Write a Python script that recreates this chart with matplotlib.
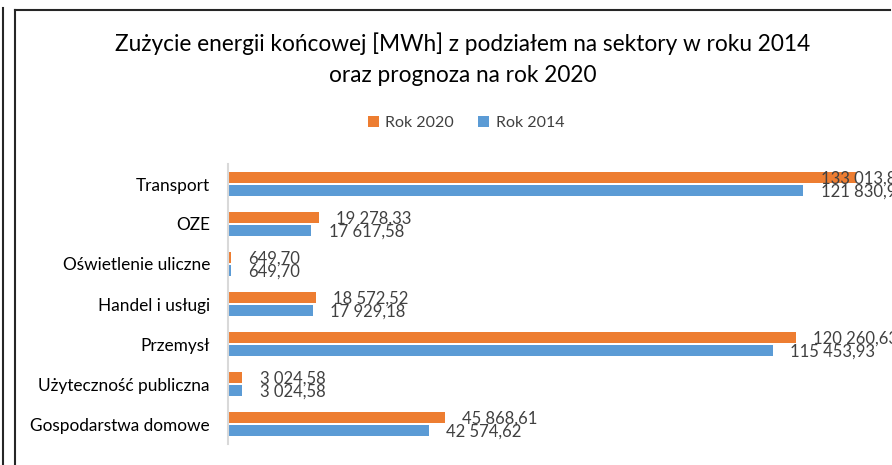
import numpy as np
import matplotlib
matplotlib.use("Agg")
import matplotlib.pyplot as plt
from matplotlib.lines import Line2D

plt.rcParams['font.family'] = ['Lato', 'DejaVu Sans']

# dane (od gory do dolu)
sektory = ["Transport", "OZE", "Oświetlenie uliczne", "Handel i usługi",
           "Przemysł", "Użyteczność publiczna", "Gospodarstwa domowe"]
rok_2020 = [133013.80, 19278.33, 649.70, 18572.52, 120260.63, 3024.58, 45868.61]
rok_2014 = [121830.90, 17617.58, 649.70, 17929.18, 115453.93, 3024.58, 42574.62]
etykiety_2020 = ["133 013,80", "19 278,33", "649,70", "18 572,52",
                 "120 260,63", "3 024,58", "45 868,61"]
etykiety_2014 = ["121 830,90", "17 617,58", "649,70", "17 929,18",
                 "115 453,93", "3 024,58", "42 574,62"]

POMARANCZ = "#ED7D31"
NIEBIESKI = "#5B9BD5"
W, H = 892, 465

fig = plt.figure(figsize=(W / 100, H / 100), dpi=100)
ax = fig.add_axes([228 / W, 21 / H, (W - 228) / W, 280 / H])

y = np.arange(len(sektory))
h = 0.267
ax.barh(y - 0.167, rok_2020, height=h, color=POMARANCZ, label="Rok 2020")
ax.barh(y + 0.167, rok_2014, height=h, color=NIEBIESKI, label="Rok 2014")

ax.set_xlim(0, 140650)
ax.set_ylim(len(sektory) - 0.5, -0.5)

# excel przesuwa etykiety, zeby nie wychodzily poza wykres
limit_etykiet = 121830.9
for i in range(len(sektory)):
    for v, txt, dy in ((rok_2020[i], etykiety_2020[i], -0.13),
                       (rok_2014[i], etykiety_2014[i], 0.2)):
        ax.annotate(txt, (min(v, limit_etykiet), i + dy), xytext=(12.5, 0),
                    textcoords="offset points", va="center", ha="left",
                    fontsize=12, color="#404040", annotation_clip=False)

ax.set_yticks(y)
ax.set_yticklabels(sektory, fontsize=12.4, color="black")
ax.tick_params(axis="y", length=0, pad=13)
ax.set_xticks([])
for s in ("top", "right", "bottom"):
    ax.spines[s].set_visible(False)
ax.spines["left"].set_color("#D9D9D9")
ax.spines["left"].set_linewidth(1.5)

fig.text(463 / W, 1 - 44 / H, "Zużycie energii końcowej [MWh] z podziałem na sektory w roku 2014",
         ha="center", va="center", fontsize=16.3, color="black")
fig.text(463 / W, 1 - 75 / H, "oraz prognoza na rok 2020",
         ha="center", va="center", fontsize=16.3, color="black")

fig.legend(loc="center", bbox_to_anchor=(466 / W, 1 - 123 / H), ncol=2,
           frameon=False, fontsize=11.5, handlelength=0.7, handleheight=0.7,
           handletextpad=0.4, columnspacing=1.5, labelcolor="#404040")

# ramki
def linia(xs, ys):
    fig.add_artist(Line2D([x / W for x in xs], [1 - v / H for v in ys],
                          color="#262626", lw=1.5, transform=fig.transFigure))

linia([2.5, 2.5], [8, H])
linia([15, 15], [10, H])
linia([15, 890], [10, 10])

fig.savefig("out.png", dpi=100)
